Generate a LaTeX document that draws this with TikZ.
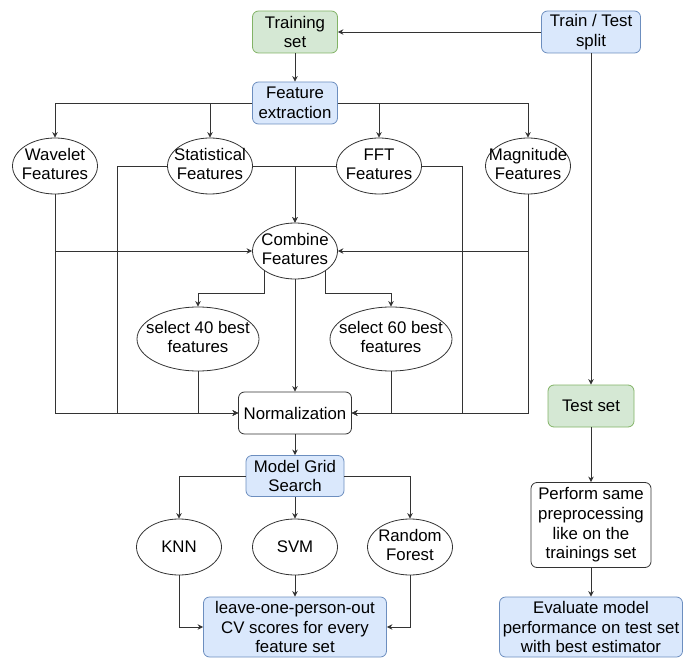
\documentclass[tikz,border=0pt]{standalone}
\usepackage{fontspec}
\setmainfont{Liberation Sans}
\usepackage{tikz}
\usepackage{xcolor}
\usetikzlibrary{positioning,arrows.meta,shapes,calc}
\definecolor{setfill}{HTML}{D5E8D4}
\definecolor{setline}{HTML}{82B366}
\definecolor{stepfill}{HTML}{DAE8FC}
\definecolor{stepline}{HTML}{6C8EBF}
\newcommand{\ovaltext}[2]{\makebox[0pt]{\begin{tabular}{@{}c@{}}#1\\#2\end{tabular}}}

\begin{document}
\begin{tikzpicture}[x=1pt, y=-1pt,
    every node/.style={font=\fontsize{16.8}{19.6}\selectfont, inner sep=0pt, align=center},
    greenbox/.style={rectangle, rounded corners=6pt, draw=setline, fill=setfill, line width=0.8pt},
    bluebox/.style={rectangle, rounded corners=6pt, draw=stepline, fill=stepfill, line width=0.8pt},
    whitebox/.style={rectangle, rounded corners=6pt, draw=black!80, fill=white, line width=0.8pt},
    oval/.style={ellipse, draw=black!80, line width=0.8pt, minimum width=85, minimum height=56},
    conn/.style={draw=black!80, line width=0.9pt, -{Stealth[length=5.5pt,width=5.5pt]}}]
    \useasboundingbox (0,0) rectangle (687,660);

    % Split and training branch
    \node[greenbox, minimum width=85, minimum height=42] (trainset) at (295,32) {Training\\set};
    \node[bluebox, minimum width=99, minimum height=42] (split) at (591,32) {Train / Test\\split};
    \node[bluebox, minimum width=85, minimum height=42] (featex) at (295,103) {Feature\\extraction};

    % Feature sets
    \node[oval] (wavelet) at (55,166) {\ovaltext{Wavelet}{Features}};
    \node[oval] (stat) at (210,166) {\ovaltext{Statistical}{Features}};
    \node[oval] (fft) at (379,166) {\ovaltext{FFT}{Features}};
    \node[oval] (magn) at (528,166) {\ovaltext{Magnitude}{Features}};
    \node[oval] (combine) at (295,251) {\ovaltext{Combine}{Features}};
    \node[oval, minimum width=122, minimum height=64] (sel40) at (198,339) {\ovaltext{select 40 best}{features}};
    \node[oval, minimum width=122, minimum height=64] (sel60) at (391,339) {\ovaltext{select 60 best}{features}};
    \node[whitebox, minimum width=113, minimum height=42] (norm) at (295,413) {Normalization};

    % Models
    \node[bluebox, minimum width=98, minimum height=41] (grid) at (295,476) {Model Grid\\Search};
    \node[oval] (knn) at (179,547) {KNN};
    \node[oval] (svm) at (295,547) {SVM};
    \node[oval] (rf) at (410,547) {\ovaltext{Random}{Forest}};
    \node[bluebox, minimum width=183, minimum height=60] (cvscores) at (295,627) {leave-one-person-out\\CV scores for every\\feature set};

    % Test branch
    \node[greenbox, minimum width=86, minimum height=42] (testset) at (591,406) {Test set};
    \node[whitebox, minimum width=120, minimum height=85] (perform) at (591,525) {Perform same\\preprocessing\\like on the\\trainings set};
    \node[bluebox, minimum width=183, minimum height=60] (evaluate) at (591,627) {Evaluate model\\performance on test set\\with best estimator};

    % Connectors
    \draw[conn] (split) -- (trainset);
    \draw[conn] (trainset) -- (featex);
    \draw[conn] (featex.west) -| (wavelet.north);
    \draw[conn] (featex.west) -| (stat.north);
    \draw[conn] (featex.east) -| (fft.north);
    \draw[conn] (featex.east) -| (magn.north);

    \draw[conn] (wavelet.south) |- (combine.west);
    \draw[conn] (wavelet.south) |- (norm.west);
    \draw[conn] (stat.east) -| (combine.north);
    \draw[conn] (stat.west) -- ++(-49.5,0) |- (norm.west);
    \draw[conn] (fft.west) -| (combine.north);
    \draw[conn] (fft.east) -- ++(41,0) |- (norm.east);
    \draw[conn] (magn.south) |- (combine.east);
    \draw[conn] (magn.south) |- (norm.east);

    \draw[conn] (combine.south west) -- ++(0,22) -| (sel40.north);
    \draw[conn] (combine.south east) -- ++(0,22) -| (sel60.north);
    \draw[conn] (combine) -- (norm);
    \draw[conn] (sel40.south) |- (norm.west);
    \draw[conn] (sel60.south) |- (norm.east);

    \draw[conn] (norm) -- (grid);
    \draw[conn] (grid.west) -| (knn.north);
    \draw[conn] (grid) -- (svm);
    \draw[conn] (grid.east) -| (rf.north);
    \draw[conn] (knn.south) |- (cvscores.west);
    \draw[conn] (svm) -- (cvscores);
    \draw[conn] (rf.south) |- (cvscores.east);

    \draw[conn] (split) -- (testset);
    \draw[conn] (testset) -- (perform);
    \draw[conn] (perform) -- (evaluate);
\end{tikzpicture}
\end{document}
